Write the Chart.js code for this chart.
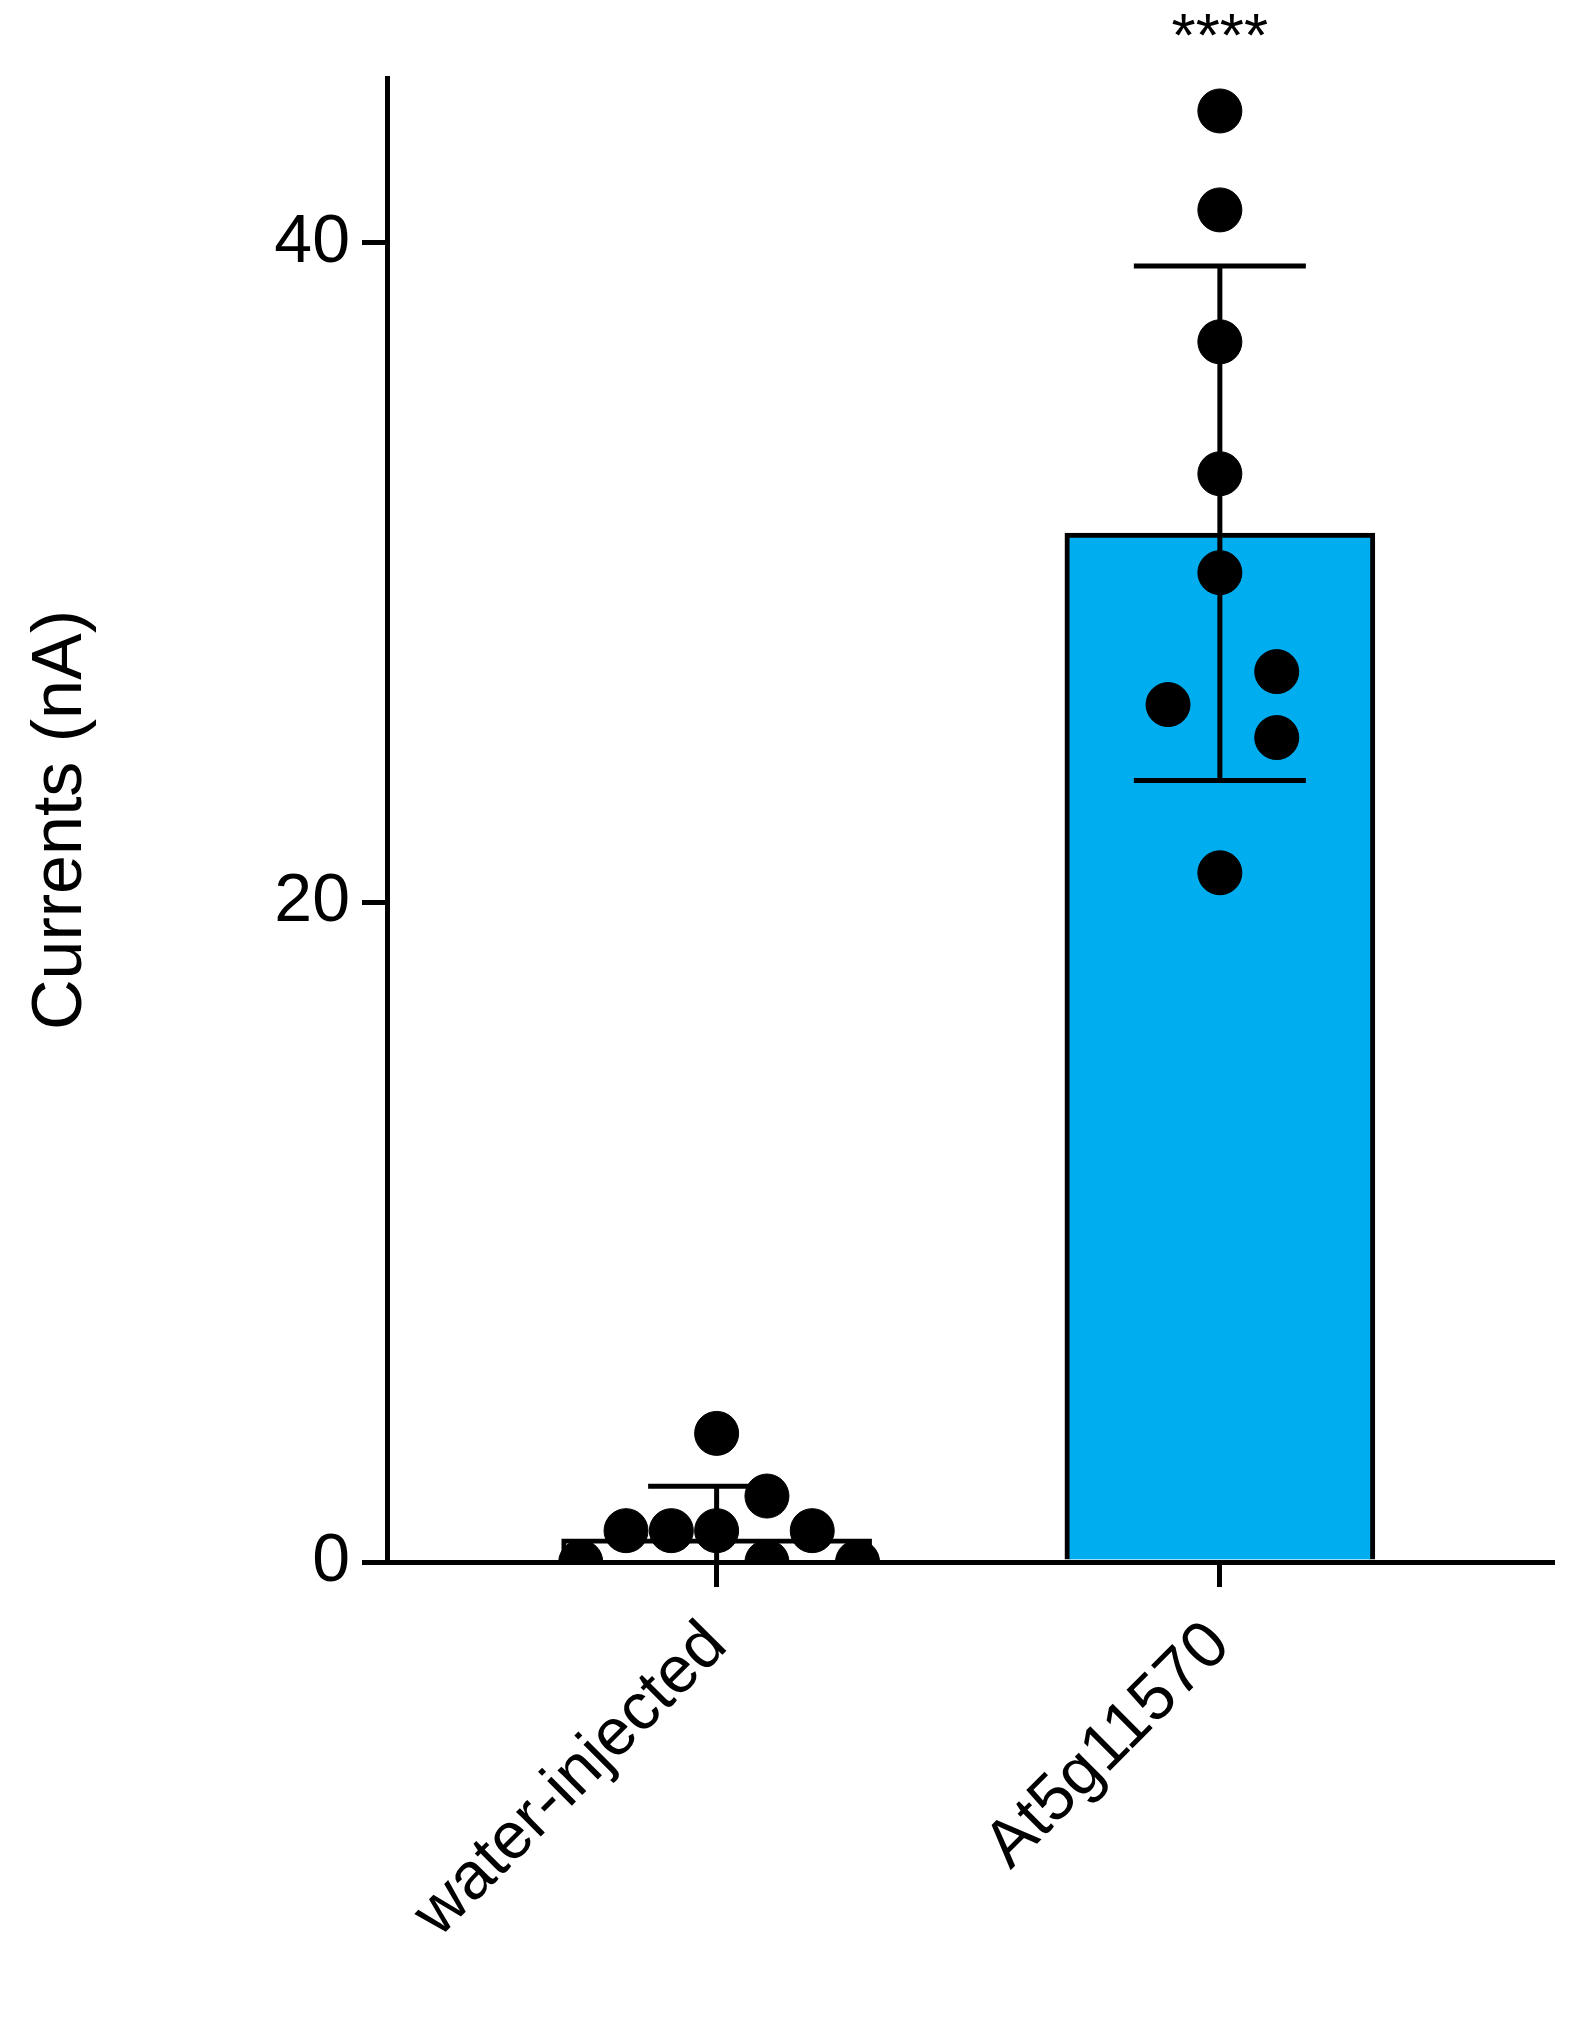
<!DOCTYPE html>
<html>
<head>
<meta charset="utf-8">
<script src="https://cdn.jsdelivr.net/npm/chart.js@4"></script>
<style>
  html, body { margin: 0; padding: 0; background: #fff; }
  #wrap { width: 1575px; height: 2034px; }
</style>
</head>
<body>
<div id="wrap"><canvas id="chart"></canvas></div>
<script>
// categories and summary values
const categories = ['water-injected', 'At5g11570'];
const means = [0.7, 31.2];
const errLow = [0, 23.7];
const errHigh = [2.3, 39.3];
const yTicks = [0, 20, 40];

// individual points: x offset around category, y value
const waterPoints = [
  { x: -0.27, y: 0 }, { x: 0.10, y: 0 }, { x: 0.28, y: 0 },
  { x: -0.18, y: 0.95 }, { x: -0.09, y: 0.95 }, { x: 0, y: 0.95 }, { x: 0.19, y: 0.95 },
  { x: 0.10, y: 2.0 }, { x: 0, y: 3.9 }
];
const genePoints = [
  { x: 1, y: 44.0 }, { x: 1, y: 41.0 }, { x: 1, y: 37.0 }, { x: 1, y: 33.0 },
  { x: 1, y: 30.0 }, { x: 0.897, y: 26.0 }, { x: 1.113, y: 27.0 },
  { x: 1.113, y: 25.0 }, { x: 1, y: 20.9 }
];

// Barras de error y asteriscos
const errorBars = {
  id: 'errorBars',
  afterDatasetsDraw(chart) {
    const { ctx, scales: { x, y } } = chart;
    const caps = [137, 172];
    ctx.save();
    ctx.strokeStyle = '#000';
    ctx.lineWidth = 5;
    categories.forEach((c, i) => {
      const px = x.getPixelForValue(i);
      const top = y.getPixelForValue(errHigh[i]);
      const bot = y.getPixelForValue(errLow[i]);
      ctx.beginPath();
      ctx.moveTo(px, top); ctx.lineTo(px, bot);
      ctx.moveTo(px - caps[i] / 2, top); ctx.lineTo(px + caps[i] / 2, top);
      if (errLow[i] > 0) { ctx.moveTo(px - caps[i] / 2, bot); ctx.lineTo(px + caps[i] / 2, bot); }
      ctx.stroke();
    });
    ctx.fillStyle = '#000';
    ctx.font = '62px Arial, "Liberation Sans", sans-serif';
    ctx.textAlign = 'center';
    ctx.textBaseline = 'middle';
    ctx.fillText('****', x.getPixelForValue(1), y.getPixelForValue(46.2));
    ctx.restore();
  }
};

const font = 'Arial, "Liberation Sans", sans-serif';

new Chart(document.getElementById('chart'), {
  data: {
    datasets: [
      { type: 'bar', data: [{ x: 0, y: means[0] }], backgroundColor: '#ffffff', borderColor: '#000', borderWidth: 5, barThickness: 310, grouped: false, order: 3 },
      { type: 'bar', data: [{ x: 1, y: means[1] }], backgroundColor: '#00adee', borderColor: '#000', borderWidth: 5, barThickness: 310, grouped: false, order: 3 },
      { type: 'scatter', data: waterPoints.concat(genePoints), backgroundColor: '#000', borderColor: '#000', pointRadius: 22, order: 1 }
    ]
  },
  options: {
    responsive: true,
    maintainAspectRatio: false,
    animation: false,
    layout: { padding: { top: 78, right: 19 } },
    plugins: { legend: { display: false }, tooltip: { enabled: false } },
    scales: {
      x: {
        type: 'linear', min: -0.655, max: 1.66, offset: false,
        afterBuildTicks: s => { s.ticks = [{ value: 0 }, { value: 1 }]; },
        afterFit: s => { s.height = 472; },
        border: { color: '#000', width: 5 },
        grid: { offset: false, drawOnChartArea: false, drawTicks: true, tickLength: 25, lineWidth: 5, color: '#000' },
        ticks: {
          callback: v => categories[v] ?? '',
          minRotation: 45, maxRotation: 45,
          color: '#000', font: { family: font, size: 66 }, padding: 20
        }
      },
      y: {
        min: 0, max: 45,
        afterBuildTicks: s => { s.ticks = yTicks.map(v => ({ value: v })); },
        afterFit: s => { s.width = 387; },
        border: { color: '#000', width: 5 },
        grid: { drawOnChartArea: false, drawTicks: true, tickLength: 25, lineWidth: 5, color: '#000' },
        ticks: { color: '#000', font: { family: font, size: 68 }, padding: 12 },
        title: { display: true, text: 'Currents (nA)', color: '#000', font: { family: font, size: 70 }, padding: { top: 20, bottom: 0 } }
      }
    }
  },
  plugins: [errorBars]
});
</script>
</body>
</html>
